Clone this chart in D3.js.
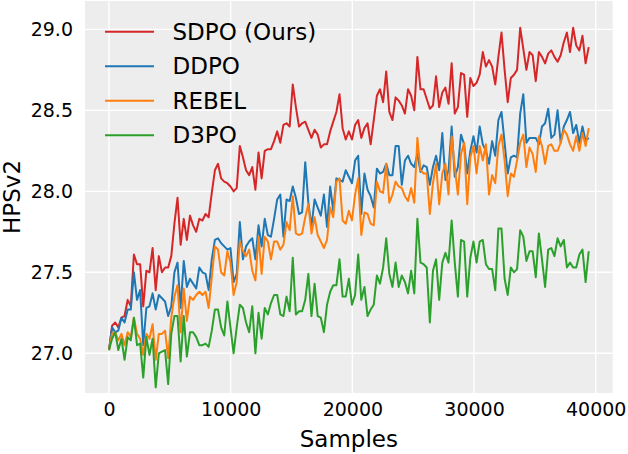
<!DOCTYPE html>
<html>
<head>
<meta charset="utf-8">
<script src="https://cdn.jsdelivr.net/npm/d3@7"></script>
<style>
  body { margin: 0; background: #fff; }
  svg text { font-family: "DejaVu Sans", sans-serif; fill: #000; }
</style>
</head>
<body>
<svg id="chart"></svg>
<script>
// step between logged evaluations (samples)
const sampleStep = 256;
const samples = d3.range(0, 155 * sampleStep, sampleStep);

const seriesNames = ["SDPO (Ours)", "DDPO", "REBEL", "D3PO"];
const seriesColors = ["#d62728", "#1f77b4", "#ff7f0e", "#2ca02c"];

const sdpo = [
  27.02, 27.17, 27.19, 27.16, 27.22, 27.23, 27.33, 27.29, 27.61, 27.55,
  27.55, 27.29, 27.51, 27.50, 27.65, 27.39, 27.60, 27.50, 27.53, 27.53,
  27.60, 27.80, 27.96, 27.67, 27.83, 27.70, 27.85, 27.79, 27.75, 27.83,
  27.82, 27.86, 27.84, 27.99, 28.13, 28.17, 28.08, 28.06, 28.05, 28.03,
  28.00, 28.02, 28.28, 28.21, 28.13, 28.10, 28.15, 28.01, 28.24, 28.08,
  28.25, 28.26, 28.26, 28.31, 28.37, 28.30, 28.41, 28.42, 28.40, 28.66,
  28.52, 28.40, 28.42, 28.43, 28.38, 28.33, 28.38, 28.35, 28.27, 28.29,
  28.29, 28.37, 28.43, 28.49, 28.60, 28.39, 28.32, 28.37, 28.32, 28.41,
  28.44, 28.33, 28.39, 28.42, 28.29, 28.44, 28.59, 28.63, 28.55, 28.74,
  28.49, 28.44, 28.58, 28.56, 28.53, 28.48, 28.63, 28.59, 28.50, 28.83,
  28.63, 28.63, 28.57, 28.51, 28.53, 28.71, 28.52, 28.61, 28.64, 28.54,
  28.79, 28.48, 28.52, 28.73, 28.72, 28.46, 28.70, 28.65, 28.67, 28.72,
  28.86, 28.77, 28.81, 28.77, 28.66, 28.83, 28.98, 28.75, 28.55, 28.70,
  28.72, 28.75, 29.01, 28.88, 28.75, 28.86, 28.84, 28.68, 28.86, 28.83,
  28.79, 28.85, 28.87, 28.83, 28.80, 28.84, 28.92, 28.98, 28.86, 29.01,
  28.90, 28.87, 28.96, 28.79, 28.89
];

const ddpo = [
  27.02, 27.16, 27.13, 27.14, 27.22, 27.19, 27.27, 27.27, 27.50, 27.33,
  27.39, 27.05, 27.28, 27.29, 27.37, 27.27, 27.36, 27.34, 27.32, 27.23,
  27.29, 27.50, 27.56, 27.28, 27.57, 27.41, 27.46, 27.43, 27.40, 27.53,
  27.50, 27.49, 27.39, 27.58, 27.70, 27.71, 27.68, 27.66, 27.64, 27.65,
  27.44, 27.49, 27.81, 27.58, 27.66, 27.69, 27.71, 27.58, 27.79, 27.66,
  27.83, 27.73, 27.72, 27.83, 27.95, 27.98, 27.72, 27.95, 27.94, 28.03,
  27.96, 27.86, 27.87, 28.18, 27.93, 27.78, 27.95, 27.90, 27.85, 27.98,
  27.78, 28.03, 27.88, 28.08, 28.07, 28.06, 28.13, 28.09, 28.05, 28.19,
  28.22, 27.86, 28.11, 28.01, 27.97, 27.90, 28.14, 28.11, 28.12, 28.17,
  28.10, 28.10, 28.28, 28.28, 28.04, 28.19, 28.22, 28.17, 28.15, 28.23,
  28.12, 28.16, 28.15, 28.04, 28.15, 28.22, 28.13, 28.36, 28.07, 28.13,
  28.40, 28.09, 28.15, 28.35, 28.29, 28.11, 28.25, 28.34, 28.24, 28.40,
  28.29, 28.25, 28.17, 28.31, 28.22, 28.44, 28.49, 28.30, 28.11, 28.21,
  28.22, 28.21, 28.48, 28.60, 28.30, 28.33, 28.33, 28.33, 28.29, 28.40,
  28.42, 28.51, 28.33, 28.35, 28.50, 28.30, 28.40, 28.44, 28.49, 28.36,
  28.41, 28.30, 28.40, 28.31, 28.33
];

const rebel = [
  27.02, 27.12, 27.13, 27.08, 27.12, 27.05, 27.13, 27.10, 27.22, 27.12,
  27.09, 26.99, 27.12, 27.09, 27.18, 26.96, 27.12, 27.12, 27.14, 26.97,
  27.22, 27.35, 27.42, 27.13, 27.40, 27.20, 27.35, 27.33, 27.36, 27.38,
  27.36, 27.38, 27.28, 27.47, 27.66, 27.64, 27.50, 27.48, 27.63, 27.56,
  27.36, 27.44, 27.69, 27.63, 27.60, 27.64, 27.51, 27.45, 27.72, 27.49,
  27.72, 27.69, 27.58, 27.69, 27.69, 27.64, 27.67, 27.81, 27.76, 27.97,
  27.74, 27.73, 27.74, 27.84, 27.92, 27.74, 27.84, 27.73, 27.69, 27.65,
  27.70, 27.90, 27.84, 28.06, 28.08, 27.82, 27.80, 27.88, 27.82, 27.98,
  28.08, 27.73, 27.87, 27.86, 27.80, 27.79, 28.06, 28.00, 27.99, 28.17,
  27.93, 27.98, 28.06, 28.03, 28.02, 27.97, 27.94, 28.02, 27.93, 28.33,
  28.13, 28.11, 28.11, 27.86, 28.05, 28.17, 27.92, 28.11, 28.17, 27.98,
  28.34, 28.15, 27.98, 28.23, 28.30, 27.92, 28.21, 28.28, 28.11, 28.28,
  28.19, 28.29, 27.98, 28.10, 28.05, 28.28, 28.35, 28.19, 27.97, 28.11,
  28.09, 28.19, 28.30, 28.35, 28.15, 28.27, 28.23, 28.12, 28.34, 28.28,
  28.17, 28.28, 28.29, 28.25, 28.25, 28.30, 28.38, 28.35, 28.29, 28.25,
  28.34, 28.25, 28.36, 28.28, 28.39
];

const d3po = [
  27.02, 27.09, 27.13, 27.02, 27.09, 26.96, 27.10, 27.08, 27.22, 27.05,
  27.06, 26.85, 27.10, 26.99, 27.09, 26.79, 27.00, 27.01, 27.02, 26.81,
  27.12, 27.23, 27.23, 26.95, 27.23, 26.98, 27.13, 27.13, 27.10, 27.05,
  27.05, 27.06, 27.04, 27.14, 27.27, 27.27, 27.16, 27.11, 27.32, 27.16,
  27.00, 27.16, 27.30, 27.28, 27.19, 27.13, 27.29, 27.00, 27.25, 27.09,
  27.28, 27.24, 27.31, 27.36, 27.36, 27.24, 27.23, 27.35, 27.26, 27.59,
  27.24, 27.26, 27.26, 27.33, 27.49, 27.23, 27.43, 27.23, 27.22, 27.13,
  27.30, 27.38, 27.42, 27.42, 27.58, 27.35, 27.35, 27.46, 27.30, 27.36,
  27.61, 27.33, 27.41, 27.23, 27.27, 27.30, 27.48, 27.43, 27.53, 27.71,
  27.49, 27.41, 27.56, 27.41, 27.48, 27.44, 27.37, 27.51, 27.37, 27.83,
  27.56, 27.55, 27.53, 27.19, 27.51, 27.58, 27.33, 27.56, 27.62, 27.56,
  27.82, 27.56, 27.35, 27.70, 27.69, 27.35, 27.59, 27.69, 27.56, 27.69,
  27.70, 27.55, 27.52, 27.52, 27.39, 27.77, 27.77, 27.46, 27.36, 27.53,
  27.50, 27.52, 27.76, 27.72, 27.57, 27.63, 27.63, 27.47, 27.74, 27.58,
  27.41, 27.64, 27.65, 27.60, 27.71, 27.66, 27.70, 27.53, 27.56, 27.53,
  27.53, 27.61, 27.64, 27.44, 27.63
];

const xTicks = [0, 10000, 20000, 30000, 40000];
const yTicks = [27.0, 27.5, 28.0, 28.5, 29.0];

function init() {
    const width = 628;
    const height = 454;
    // plot area edges
    const left = 85, right = 612.7, top = 1, bottom = 393;

    const svg = d3.select("#chart")
        .attr("width", width)
        .attr("height", height);

    const scaleX = d3.scaleLinear()
        .domain([-1971, 41395])
        .range([left, right]);
    const scaleY = d3.scaleLinear()
        .domain([26.755, 29.175])
        .range([bottom, top]);

    //grey panel
    svg.append("rect")
        .attr("x", left)
        .attr("y", top)
        .attr("width", right - left)
        .attr("height", bottom - top)
        .attr("fill", "#ededed");

    //white grid
    svg.append("g").selectAll("line").data(xTicks).enter()
        .append("line")
        .attr("x1", d => scaleX(d))
        .attr("x2", d => scaleX(d))
        .attr("y1", top)
        .attr("y2", bottom)
        .attr("stroke", "#fff")
        .attr("stroke-width", 1.4);
    svg.append("g").selectAll("line").data(yTicks).enter()
        .append("line")
        .attr("x1", left)
        .attr("x2", right)
        .attr("y1", d => scaleY(d))
        .attr("y2", d => scaleY(d))
        .attr("stroke", "#fff")
        .attr("stroke-width", 1.4);

    //series lines
    const allSeries = [sdpo, ddpo, rebel, d3po];
    const line = d3.line()
        .x((d, i) => scaleX(samples[i]))
        .y(d => scaleY(d));

    svg.append("g").selectAll("path").data(allSeries).enter()
        .append("path")
        .attr("d", d => line(d))
        .attr("fill", "none")
        .attr("stroke", (d, i) => seriesColors[i])
        .attr("stroke-width", 2)
        .attr("stroke-linejoin", "round");

    //axes without tick marks or spines
    const xAxis = d3.axisBottom(scaleX).tickValues(xTicks).tickSize(0).tickPadding(10)
        .tickFormat(d3.format("d"));
    const yAxis = d3.axisLeft(scaleY).tickValues(yTicks).tickSize(0).tickPadding(12)
        .tickFormat(d3.format(".1f"));

    svg.append("g")
        .attr("transform", `translate(0, ${bottom})`)
        .call(xAxis)
        .call(g => g.select(".domain").remove())
        .selectAll("text")
        .style("font-size", "19px")
        .style("font-family", "DejaVu Sans");

    svg.append("g")
        .attr("transform", `translate(${left}, 0)`)
        .call(yAxis)
        .call(g => g.select(".domain").remove())
        .selectAll("text")
        .style("font-size", "19px")
        .style("font-family", "DejaVu Sans");

    //axis titles
    svg.append("text")
        .attr("x", (left + right) / 2)
        .attr("y", 447)
        .attr("text-anchor", "middle")
        .style("font-size", "23px")
        .text("Samples");

    svg.append("text")
        .attr("transform", `translate(20, ${(top + bottom) / 2}) rotate(-90)`)
        .attr("text-anchor", "middle")
        .style("font-size", "23px")
        .text("HPSv2");

    //legend, no frame
    const legend = svg.append("g").selectAll("g").data(seriesNames).enter()
        .append("g")
        .attr("transform", (d, i) => `translate(105, ${31.7 + i * 34.55})`);
    legend.append("line")
        .attr("x1", 0)
        .attr("x2", 49)
        .attr("stroke", (d, i) => seriesColors[i])
        .attr("stroke-width", 2);
    legend.append("text")
        .attr("x", 67.5)
        .attr("dy", "0.35em")
        .style("font-size", "23px")
        .text(d => d);
}

window.onload = init;
</script>
</body>
</html>
